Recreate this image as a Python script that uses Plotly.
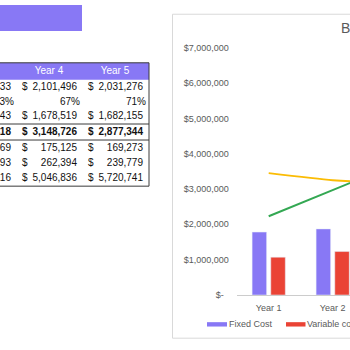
import plotly.graph_objects as go

# ---------------- data ----------------
years = ["Year 1", "Year 2", "Year 3", "Year 4", "Year 5"]
fixed_cost = [1780000, 1870000, 1994833, 2101496, 2031276]
cm_ratio = [0.52, 0.59, 0.63, 0.67, 0.71]
variable_cost = [1070000, 1230000, 1372743, 1678519, 1682155]
break_even = [3450000, 3250000, 3166418, 3148726, 2877344]
row5_values = [190000, 186000, 181269, 175125, 169273]
row6_values = [300000, 295000, 284193, 262394, 239779]
revenue = [2230000, 2960000, 3710016, 5046836, 5720741]

table_years = ["Year 3", "Year 4", "Year 5"]
y_tick_vals = [0, 1000000, 2000000, 3000000, 4000000, 5000000, 6000000, 7000000]
y_tick_text = ["$-\u00a0\u00a0", "$1,000,000", "$2,000,000", "$3,000,000",
               "$4,000,000", "$5,000,000", "$6,000,000", "$7,000,000"]
chart_title = "Break-even Analysis"

# ---------------- style / layout constants ----------------
W = H = 350
PURPLE = "#8878F5"
RED = "#EA4335"
YELLOW = "#FBBC04"
GREEN = "#34A853"
GREY = "#5a5a5a"
FONT = "Liberation Sans"

def px(x):
    return x / W

def py(y):
    return 1 - y / H

plot_left, plot_top, plot_bottom = 236.7, 44.0, 298.5
cat_px = 64.0

fig = go.Figure()

# bars + lines (chart)
fig.add_trace(go.Bar(x=years, y=fixed_cost, name="Fixed Cost", marker_color=PURPLE))
fig.add_trace(go.Bar(x=years, y=variable_cost, name="Variable cost", marker_color=RED))
fig.add_trace(go.Scatter(x=years, y=break_even, name="Break-even", mode="lines",
                         line=dict(color=YELLOW, width=2, shape="spline", smoothing=0.6)))
fig.add_trace(go.Scatter(x=years, y=revenue, name="Revenue", mode="lines",
                         line=dict(color=GREEN, width=2)))

# ---------------- table (on pixel-mapped overlay axes) ----------------
col_edges = [-50, 16, 82, 148]
row_edges = [59.5, 77, 92.5, 107.5, 122.5, 139, 155.5, 171, 186.5]
row_centers = [(row_edges[i] + row_edges[i + 1]) / 2 for i in range(len(row_edges) - 1)]

idx = [years.index(y) for y in table_years]
table_rows = [
    ("money", [fixed_cost[i] for i in idx], False),
    ("pct", [cm_ratio[i] for i in idx], False),
    ("money", [variable_cost[i] for i in idx], False),
    ("money", [break_even[i] for i in idx], True),
    ("money", [row5_values[i] for i in idx], False),
    ("money", [row6_values[i] for i in idx], False),
    ("money", [revenue[i] for i in idx], False),
]

# header
fig.add_trace(go.Scatter(
    x=[(col_edges[c] + col_edges[c + 1]) / 2 for c in range(len(table_years))],
    y=[row_centers[0]] * len(table_years), text=table_years, mode="text",
    textposition="middle center", textfont=dict(family=FONT, size=10, color="white"),
    xaxis="x2", yaxis="y2", showlegend=False, hoverinfo="skip"))

for r, (kind, vals, bold) in enumerate(table_rows):
    yc = row_centers[r + 1]
    txt_font = dict(family=FONT, size=10, color="#111111", weight="bold" if bold else "normal")
    if kind == "money":
        fig.add_trace(go.Scatter(
            x=[col_edges[c] + 6 for c in range(len(vals))], y=[yc] * len(vals),
            text=["$"] * len(vals), mode="text", textposition="middle right",
            textfont=txt_font, xaxis="x2", yaxis="y2", showlegend=False, hoverinfo="skip"))
        fig.add_trace(go.Scatter(
            x=[col_edges[c + 1] - 5 for c in range(len(vals))], y=[yc] * len(vals),
            text=[f"{v:,.0f}" for v in vals], mode="text", textposition="middle left",
            textfont=txt_font, xaxis="x2", yaxis="y2", showlegend=False, hoverinfo="skip"))
    else:
        fig.add_trace(go.Scatter(
            x=[col_edges[c + 1] - 2 for c in range(len(vals))], y=[yc] * len(vals),
            text=[f"{v:.0%}" for v in vals], mode="text", textposition="middle left",
            textfont=txt_font, xaxis="x2", yaxis="y2", showlegend=False, hoverinfo="skip"))

shapes = []
# banner
shapes.append(dict(type="rect", xref="x2", yref="y2", x0=-5, x1=82, y0=-5, y1=26.7,
                   fillcolor=PURPLE, line_width=0, layer="below"))
# header band
shapes.append(dict(type="rect", xref="x2", yref="y2", x0=-5, x1=149, y0=row_edges[0], y1=row_edges[1],
                   fillcolor=PURPLE, line_width=0, layer="below"))
BORDER = "#3a3a3a"
for yy in [row_edges[0], row_edges[4], row_edges[5], row_edges[-1]]:
    shapes.append(dict(type="line", xref="x2", yref="y2", x0=-5, x1=149, y0=yy, y1=yy,
                       line=dict(color=BORDER, width=1)))
shapes.append(dict(type="line", xref="x2", yref="y2", x0=149, x1=149, y0=row_edges[0], y1=row_edges[-1],
                   line=dict(color=BORDER, width=1)))
# chart border
shapes.append(dict(type="rect", xref="x2", yref="y2", x0=172.5, x1=400, y0=9.5, y1=343,
                   line=dict(color="#d9d9d9", width=1), fillcolor="rgba(0,0,0,0)", layer="below"))
# legend swatches
shapes.append(dict(type="rect", xref="x2", yref="y2", x0=207, x1=227, y0=326.5, y1=331,
                   fillcolor=PURPLE, line_width=0))
shapes.append(dict(type="rect", xref="x2", yref="y2", x0=286, x1=305.5, y0=326.5, y1=331,
                   fillcolor=RED, line_width=0))

annotations = [
    dict(xref="x2", yref="y2", x=339, y=24, text=chart_title, showarrow=False,
         xanchor="left", yanchor="middle", font=dict(family=FONT, size=14, color=GREY)),
    dict(xref="x2", yref="y2", x=228.5, y=328.5, text="Fixed Cost", showarrow=False,
         xanchor="left", yanchor="middle", xshift=-2, font=dict(family=FONT, size=9, color=GREY)),
    dict(xref="x2", yref="y2", x=306.5, y=328.5, text="Variable cost", showarrow=False,
         xanchor="left", yanchor="middle", xshift=-2, font=dict(family=FONT, size=9, color=GREY)),
]

fig.update_layout(
    width=W, height=H, autosize=False,
    margin=dict(l=0, r=0, t=0, b=0, pad=0),
    paper_bgcolor="white", plot_bgcolor="rgba(0,0,0,0)",
    showlegend=False,
    barmode="group", bargap=0.416, bargroupgap=0.225,
    xaxis=dict(domain=[px(plot_left), 1], type="category", categoryorder="array",
               categoryarray=years,
               range=[-0.5, -0.5 + (W - plot_left) / cat_px],
               showgrid=False, zeroline=False, showline=True, linecolor="#cccccc", linewidth=1,
               ticks="", tickfont=dict(family=FONT, size=9, color=GREY), ticklabelstandoff=4,
               fixedrange=True),
    yaxis=dict(domain=[py(plot_bottom), py(plot_top)], range=[0, 7000000],
               tickvals=y_tick_vals, ticktext=y_tick_text, showgrid=False, zeroline=False,
               showline=False, ticks="", tickfont=dict(family=FONT, size=9, color=GREY),
               ticklabelstandoff=7, fixedrange=True),
    xaxis2=dict(domain=[0, 1], range=[0, W], visible=False, fixedrange=True, anchor="y2"),
    yaxis2=dict(domain=[0, 1], range=[H, 0], visible=False, fixedrange=True, anchor="x2"),
    shapes=shapes,
    annotations=annotations,
)

fig.write_html("out.html", config={"displayModeBar": False})
